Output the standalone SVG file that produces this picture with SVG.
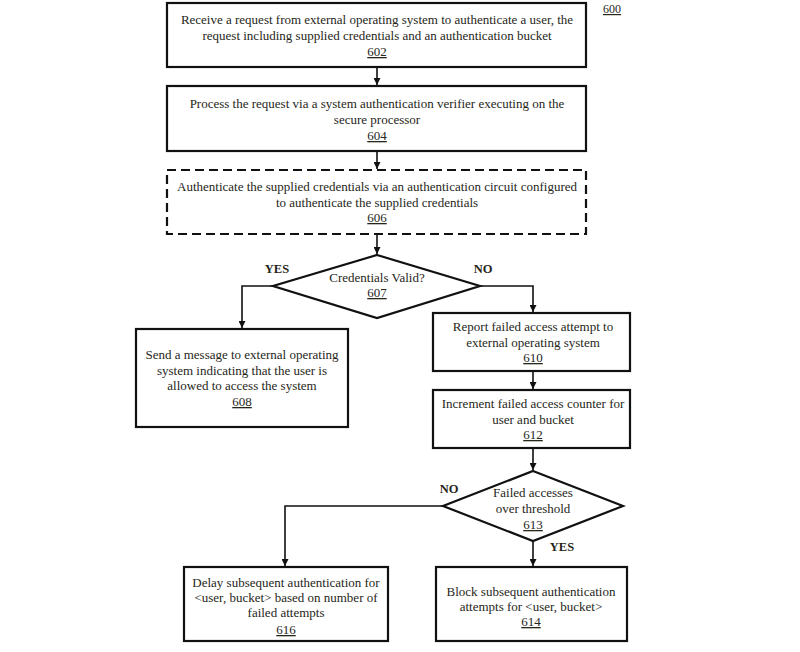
<svg xmlns="http://www.w3.org/2000/svg" width="800" height="652" viewBox="0 0 800 652">
<style>
.box{fill:#fff;stroke:#111;stroke-width:2.2}
.dash{fill:#fff;stroke:#111;stroke-width:2.2;stroke-dasharray:9 5}
.t{font-family:"Liberation Serif","Times New Roman",serif;font-size:13px;fill:#262619;text-anchor:middle}
.u{text-decoration:underline}
.b{font-weight:bold;font-size:12.5px}
.c{fill:none;stroke:#111;stroke-width:1.6}
</style>
<defs>
<marker id="ah" viewBox="0 0 10 10" refX="10" refY="5" markerWidth="7" markerHeight="7" markerUnits="userSpaceOnUse" orient="auto">
<path d="M0,0 L10,5 L0,10 z" fill="#111"/>
</marker>
</defs>
<rect width="800" height="652" fill="#fff"/>
<text class="t u" x="612" y="13" style="font-size:12px">600</text>
<g id="connectors">
<path class="c" d="M377,67 V85" marker-end="url(#ah)"/>
<path class="c" d="M377,151 V169" marker-end="url(#ah)"/>
<path class="c" d="M377,234 V254" marker-end="url(#ah)"/>
<path class="c" d="M273,286 H242 V328" marker-end="url(#ah)"/>
<path class="c" d="M479,286 H533 V312" marker-end="url(#ah)"/>
<path class="c" d="M533,371 V389" marker-end="url(#ah)"/>
<path class="c" d="M533,448 V470" marker-end="url(#ah)"/>
<path class="c" d="M443,506 H285 V566" marker-end="url(#ah)"/>
<path class="c" d="M533,541 V566" marker-end="url(#ah)"/>
<text class="t b" x="277" y="273">YES</text>
<text class="t b" x="483" y="273">NO</text>
<text class="t b" x="449" y="493">NO</text>
<text class="t b" x="562" y="551">YES</text>
</g>
<g id="n602">
<rect class="box" x="167" y="3" width="419" height="64"/>
<text class="t" x="377" y="24">Receive a request from external operating system to authenticate a user, the</text>
<text class="t" x="377" y="40">request including supplied credentials and an authentication bucket</text>
<text class="t u" x="377" y="56">602</text>
</g>
<g id="n604">
<rect class="box" x="167" y="86" width="419" height="65"/>
<text class="t" x="377" y="108">Process the request via a system authentication verifier executing on the</text>
<text class="t" x="377" y="124">secure processor</text>
<text class="t u" x="377" y="140">604</text>
</g>
<g id="n606">
<rect class="dash" x="167" y="170" width="419" height="64"/>
<text class="t" x="377" y="191">Authenticate the supplied credentials via an authentication circuit configured</text>
<text class="t" x="377" y="207">to authenticate the supplied credentials</text>
<text class="t u" x="377" y="222">606</text>
</g>
<g id="n607">
<path class="box" d="M377,255 L480,286 L377,318 L273,286 Z"/>
<text class="t" x="377" y="282">Credentials Valid?</text>
<text class="t u" x="377" y="297">607</text>
</g>
<g id="n608">
<rect class="box" x="136" y="329" width="212" height="98"/>
<text class="t" x="242" y="359">Send a message to external operating</text>
<text class="t" x="242" y="375">system indicating that the user is</text>
<text class="t" x="242" y="390">allowed to access the system</text>
<text class="t u" x="242" y="406">608</text>
</g>
<g id="n610">
<rect class="box" x="433" y="313" width="197" height="58"/>
<text class="t" x="533" y="331">Report failed access attempt to</text>
<text class="t" x="533" y="347">external operating system</text>
<text class="t u" x="533" y="362">610</text>
</g>
<g id="n612">
<rect class="box" x="433" y="390" width="197" height="58"/>
<text class="t" x="533" y="408">Increment failed access counter for</text>
<text class="t" x="533" y="424">user and bucket</text>
<text class="t u" x="533" y="439">612</text>
</g>
<g id="n613">
<path class="box" d="M533,471 L623,506 L533,541 L443,506 Z"/>
<text class="t" x="533" y="497">Failed accesses</text>
<text class="t" x="533" y="513">over threshold</text>
<text class="t u" x="533" y="529">613</text>
</g>
<g id="n616">
<rect class="box" x="184" y="567" width="204" height="74"/>
<text class="t" x="286" y="587">Delay subsequent authentication for</text>
<text class="t" x="286" y="602">&lt;user, bucket&gt; based on number of</text>
<text class="t" x="286" y="617">failed attempts</text>
<text class="t u" x="286" y="634">616</text>
</g>
<g id="n614">
<rect class="box" x="436" y="567" width="191" height="74"/>
<text class="t" x="531" y="596">Block subsequent authentication</text>
<text class="t" x="531" y="611">attempts for &lt;user, bucket&gt;</text>
<text class="t u" x="531" y="626">614</text>
</g>
</svg>
